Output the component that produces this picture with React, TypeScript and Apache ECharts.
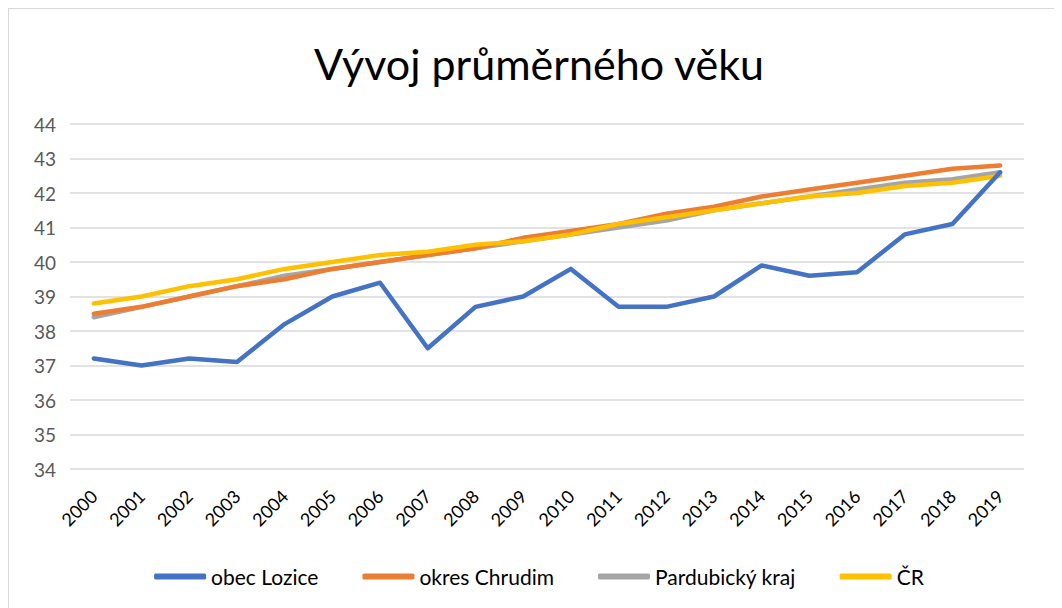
import React, { useEffect, useRef } from "react";
import * as echarts from "echarts";

const years = ["2000","2001","2002","2003","2004","2005","2006","2007","2008","2009","2010","2011","2012","2013","2014","2015","2016","2017","2018","2019"];
const lozice = [37.2,37.0,37.2,37.1,38.2,39.0,39.4,37.5,38.7,39.0,39.8,38.7,38.7,39.0,39.9,39.6,39.7,40.8,41.1,42.6];
const chrudim = [38.5,38.7,39.0,39.3,39.5,39.8,40.0,40.2,40.4,40.7,40.9,41.1,41.4,41.6,41.9,42.1,42.3,42.5,42.7,42.8];
const pardubicky = [38.4,38.7,39.0,39.3,39.6,39.8,40.0,40.2,40.4,40.6,40.8,41.0,41.2,41.5,41.7,41.9,42.1,42.3,42.4,42.6];
const cr = [38.8,39.0,39.3,39.5,39.8,40.0,40.2,40.3,40.5,40.6,40.8,41.1,41.3,41.5,41.7,41.9,42.0,42.2,42.3,42.5];
const seriesNames = ["obec Lozice","okres Chrudim","Pardubický kraj","ČR"];
const colors = ["#4472C4","#ED7D31","#A5A5A5","#FFC000"];

const FONT = "Lato, 'Open Sans', sans-serif";

export default function App() {
  const ref = useRef<HTMLDivElement>(null);
  useEffect(() => {
    if (!ref.current) return;
    const chart = echarts.init(ref.current, null, { renderer: "svg" });
    const datas = [lozice, chrudim, pardubicky, cr];
    chart.setOption({
      animation: false,
      textStyle: { fontFamily: FONT },
      title: {
        text: "Vývoj průměrného věku",
        left: "center",
        top: 28,
        textStyle: { fontSize: 43, fontWeight: "normal", color: "#000", fontFamily: FONT },
      },
      grid: { left: 61, top: 115, width: 954, height: 345, containLabel: false },
      legend: {
        bottom: 27,
        left: "center",
        itemWidth: 52,
        itemHeight: 6,
        itemGap: 44,
        icon: "roundRect",
        textStyle: { fontSize: 21, color: "#000", fontFamily: FONT },
        data: seriesNames,
      },
      xAxis: {
        type: "category",
        data: years,
        boundaryGap: true,
        axisLine: { show: false },
        axisTick: { show: false },
        axisLabel: { rotate: 45, fontSize: 18, color: "#000", margin: 24, interval: 0, fontFamily: FONT },
      },
      yAxis: {
        type: "value",
        min: 34,
        max: 44,
        interval: 1,
        axisLine: { show: false },
        axisTick: { show: false },
        axisLabel: { fontSize: 19, color: "#595959", margin: 14, fontFamily: FONT },
        splitLine: { lineStyle: { color: "#D9D9D9", width: 1.5 } },
      },
      series: seriesNames.map((n, i) => ({
        name: n,
        type: "line",
        data: datas[i],
        symbol: "none",
        color: colors[i],
        lineStyle: { width: 4.5, color: colors[i], cap: "round", join: "round" },
        z: i === 3 ? 5 : i === 0 ? 6 : 4 - i,
      })),
    });
    return () => chart.dispose();
  }, []);
  return (
    <div
      ref={ref}
      style={{ width: 1060, height: 610, border: "1px solid #D9D9D9", boxSizing: "content-box" }}
    />
  );
}
